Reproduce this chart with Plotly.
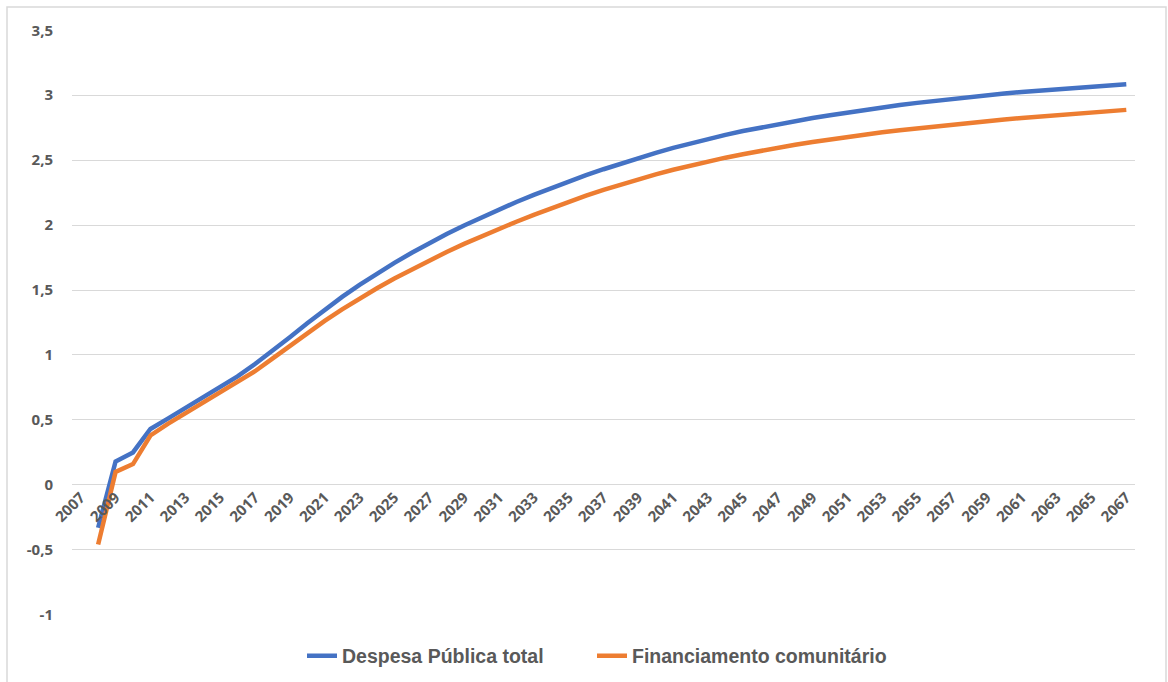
import plotly.graph_objects as go

years = list(range(2008, 2068))

despesa_publica_total = [
    -0.33, 0.18, 0.25, 0.43, 0.51, 0.59, 0.67, 0.75, 0.835, 0.93,
    1.03, 1.137, 1.244, 1.348, 1.447, 1.54, 1.627, 1.709, 1.787, 1.861,
    1.931, 1.997, 2.06, 2.12, 2.178, 2.233, 2.286, 2.336, 2.384, 2.43,
    2.474, 2.516, 2.556, 2.594, 2.63, 2.664, 2.695, 2.724, 2.751, 2.777,
    2.801, 2.824, 2.846, 2.867, 2.887, 2.906, 2.924, 2.941, 2.957, 2.972,
    2.987, 3.001, 3.013, 3.025, 3.036, 3.047, 3.057, 3.067, 3.076, 3.085,
]

financiamento_comunitario = [
    -0.46, 0.10, 0.16, 0.38, 0.47, 0.55, 0.63, 0.705, 0.785, 0.875,
    0.972, 1.072, 1.169, 1.262, 1.351, 1.435, 1.514, 1.589, 1.66, 1.728,
    1.793, 1.855, 1.914, 1.971, 2.026, 2.079, 2.13, 2.179, 2.226, 2.271,
    2.314, 2.354, 2.391, 2.426, 2.459, 2.49, 2.519, 2.546, 2.572, 2.596,
    2.619, 2.64, 2.66, 2.679, 2.697, 2.714, 2.73, 2.745, 2.76, 2.774,
    2.787, 2.8, 2.813, 2.825, 2.836, 2.847, 2.858, 2.868, 2.877, 2.887,
]

x_tick_years = list(range(2007, 2068, 2))
x_tick_labels = [str(y) for y in x_tick_years]

y_tick_vals = [-1, -0.5, 0, 0.5, 1, 1.5, 2, 2.5, 3, 3.5]
y_tick_labels = ["-1", "-0,5", "0", "0,5", "1", "1,5", "2", "2,5", "3", "3,5"]

series_names = ["Despesa Pública total", "Financiamento comunitário"]
series_colors = ["#4472C4", "#ED7D31"]
series_legends = ["legend", "legend2"]

TICK_FONT = dict(family="Open Sans, Liberation Sans, sans-serif", size=15, color="#595959", weight="bold")
LEGEND_FONT = dict(family="Liberation Sans, Arial, sans-serif", size=19.5, color="#595959", weight="bold")
GRID = "#D9D9D9"

fig = go.Figure()
for name, vals, col, lg in zip(series_names, [despesa_publica_total, financiamento_comunitario],
                               series_colors, series_legends):
    fig.add_trace(go.Scatter(
        x=years, y=vals, name=name, mode="lines",
        line=dict(color=col, width=4.5), legend=lg,
    ))

# margins: plot area from x=72..1135, y=30..615
L, R, T, B = 72, 33, 30, 67
W, H = 1168, 682
pw, ph = W - L - R, H - T - B
ymin, ymax = -1, 3.5
zero_pos = (0 - ymin) / (ymax - ymin)

legend_common = dict(
    orientation="h", xref="container", yref="container",
    y=1 - 656 / H, xanchor="left", yanchor="middle",
    font=LEGEND_FONT, bgcolor="rgba(0,0,0,0)",
)

fig.update_layout(
    width=W, height=H,
    margin=dict(l=L, r=R, t=T, b=B, pad=0, autoexpand=False),
    paper_bgcolor="white", plot_bgcolor="white",
    showlegend=True,
    legend=dict(x=302 / W, **legend_common),
    legend2=dict(x=592 / W, **legend_common),
    xaxis=dict(
        range=[2006.5, 2067.5],
        tickmode="array", tickvals=x_tick_years, ticktext=x_tick_labels,
        tickangle=-45, tickfont=TICK_FONT,
        showgrid=False, zeroline=False, showline=False,
        ticks="", anchor="free", position=zero_pos, automargin=False,
    ),
    yaxis=dict(
        range=[ymin - 0.002, ymax + 0.002],
        tickmode="array", tickvals=y_tick_vals, ticktext=y_tick_labels,
        tickfont=TICK_FONT,
        showgrid=True, gridcolor=GRID, gridwidth=1.3,
        zeroline=False, showline=False, ticks="",
        ticklabelstandoff=18, automargin=False,
    ),
)

# chart-area border (Excel style)
x0 = (7 - L) / pw
x1 = (1166 - L) / pw
y1 = (H - B - 7) / ph
fig.add_shape(type="rect", xref="paper", yref="paper",
              x0=x0, x1=x1, y0=-0.3, y1=y1,
              line=dict(color="#D9D9D9", width=1.5), fillcolor="rgba(0,0,0,0)", layer="below")

fig.write_html("out.html", config={"displayModeBar": False},
               post_script="document.body.style.margin='0';document.body.style.overflow='hidden';")
